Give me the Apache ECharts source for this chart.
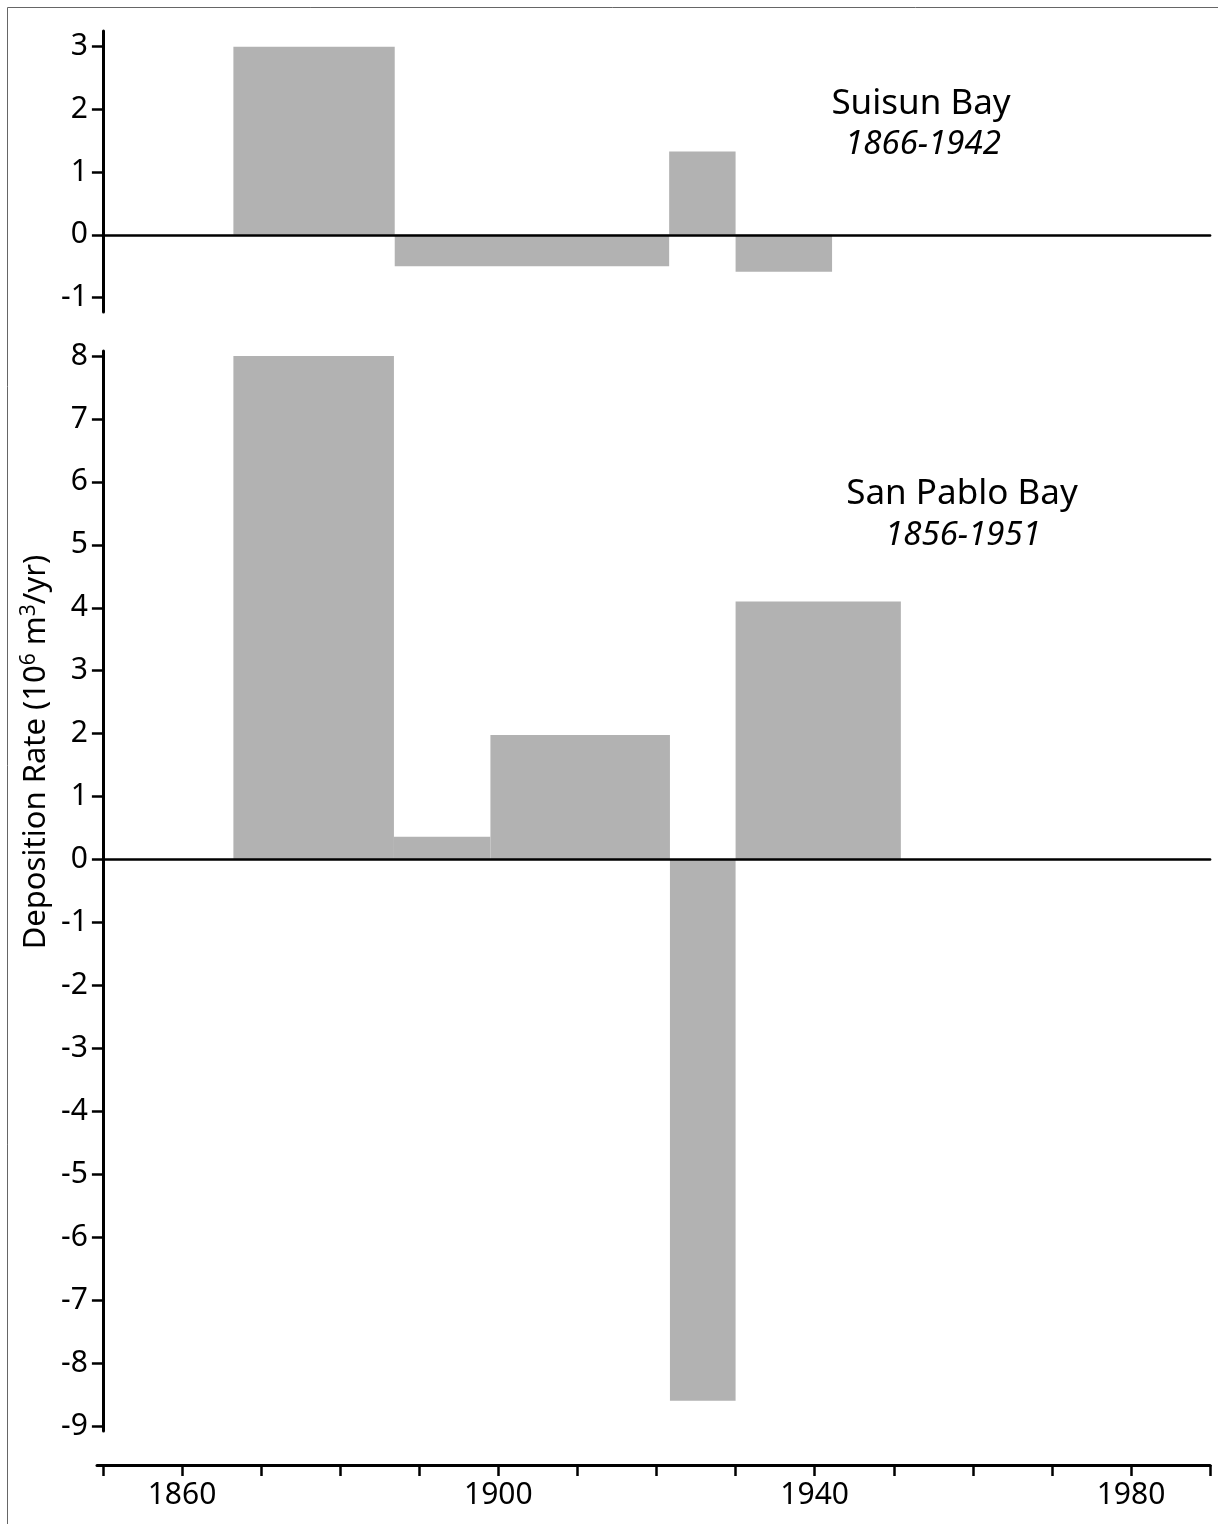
<!DOCTYPE html>
<html>
<head>
<meta charset="utf-8">
<script src="https://cdn.jsdelivr.net/npm/echarts@6/dist/echarts.min.js"></script>
<style>
  html, body { margin: 0; padding: 0; background: #fff; }
  #chart { width: 1218px; height: 1524px; }
</style>
</head>
<body>
<div id="chart"></div>
<script>
// Suisun Bay 1866-1942: periods (start year, end year) and rate
const suisunStart = [1866.5, 1886.9, 1921.6, 1930.0];
const suisunEnd   = [1886.9, 1921.6, 1930.0, 1942.2];
const suisunRate  = [3.0, -0.5, 1.33, -0.59];

// San Pablo Bay 1856-1951
const pabloStart = [1866.5, 1886.8, 1899.0, 1921.7, 1930.0];
const pabloEnd   = [1886.8, 1899.0, 1921.7, 1930.0, 1950.9];
const pabloRate  = [8.0, 0.36, 1.98, -8.6, 4.1];

// tick labels
const suisunTicks = [-1, 0, 1, 2, 3];
const pabloTicks = [-9, -8, -7, -6, -5, -4, -3, -2, -1, 0, 1, 2, 3, 4, 5, 6, 7, 8];
const yearTicks = [1850, 1860, 1870, 1880, 1890, 1900, 1910, 1920, 1930, 1940, 1950, 1960, 1970, 1980, 1990];
const yearLabels = [1860, 1900, 1940, 1980];

const FONT = 'Noto Sans';

function toRows(starts, ends, vals) {
    return starts.map((s, i) => [s, ends[i], vals[i]]);
}

// 画可变宽度的柱子
function renderBlock(params, api) {
    const p0 = api.coord([api.value(0), 0]);
    const p1 = api.coord([api.value(1), api.value(2)]);
    return {
        type: 'rect',
        shape: {
            x: p0[0],
            y: Math.min(p0[1], p1[1]),
            width: p1[0] - p0[0],
            height: Math.abs(p1[1] - p0[1])
        },
        style: { fill: '#b2b2b2' }
    };
}

function panelX(gridIndex) {
    return {
        type: 'value',
        gridIndex: gridIndex,
        min: 1850,
        max: 1990,
        z: 5,
        axisLine: { show: true, onZero: true, lineStyle: { color: '#000', width: 2.5 } },
        axisTick: { show: false },
        axisLabel: { show: false },
        splitLine: { show: false }
    };
}

function panelY(gridIndex, min, max, ticks) {
    return {
        type: 'value',
        gridIndex: gridIndex,
        min: min,
        max: max,
        axisLine: { show: true, onZero: false, lineStyle: { color: '#000', width: 3 } },
        axisTick: { show: true, length: 11, customValues: ticks, lineStyle: { color: '#000', width: 2.5 } },
        axisLabel: { customValues: ticks, margin: 15, color: '#000', fontFamily: FONT, fontSize: 30 },
        splitLine: { show: false }
    };
}

const chart = echarts.init(document.getElementById('chart'));

const option = {
    animation: false,
    backgroundColor: '#fff',
    grid: [
        { left: 102.9, right: 7.9, top: 31, height: 281 },
        { left: 102.9, right: 7.9, top: 351, height: 1080 },
        { left: 97, right: 7.9, top: 1464, height: 1 }
    ],
    xAxis: [
        panelX(0),
        panelX(1),
        {
            type: 'value',
            gridIndex: 2,
            min: 1849.25,
            max: 1990,
            axisLine: { show: true, onZero: false, lineStyle: { color: '#000', width: 3 } },
            axisTick: { show: true, length: 11, customValues: yearTicks, lineStyle: { color: '#000', width: 2.5 } },
            axisLabel: {
                customValues: yearLabels,
                margin: 15,
                color: '#000',
                fontFamily: FONT,
                fontSize: 30,
                formatter: (v) => String(v)
            },
            splitLine: { show: false }
        }
    ],
    yAxis: [
        panelY(0, -1.23, 3.25, suisunTicks),
        panelY(1, -9.08, 8.08, pabloTicks),
        { type: 'value', gridIndex: 2, show: false, min: 0, max: 1 }
    ],
    series: [
        {
            name: 'Suisun Bay',
            type: 'custom',
            xAxisIndex: 0,
            yAxisIndex: 0,
            renderItem: renderBlock,
            encode: { x: [0, 1], y: 2 },
            data: toRows(suisunStart, suisunEnd, suisunRate)
        },
        {
            name: 'San Pablo Bay',
            type: 'custom',
            xAxisIndex: 1,
            yAxisIndex: 1,
            renderItem: renderBlock,
            encode: { x: [0, 1], y: 2 },
            data: toRows(pabloStart, pabloEnd, pabloRate)
        }
    ],
    graphic: [
        {
            type: 'polyline',
            silent: true,
            shape: { points: [[7.5, 1524], [7.5, 7.5], [1218, 7.5]] },
            style: { stroke: '#666', lineWidth: 1, fill: null }
        },
        {
            type: 'text', x: 921, y: 104,
            style: { text: 'Suisun Bay', fontFamily: FONT, fontSize: 35, fill: '#000', align: 'center', verticalAlign: 'middle' }
        },
        {
            type: 'text', x: 923, y: 145,
            style: { text: '1866-1942', fontFamily: FONT, fontStyle: 'italic', fontSize: 33, fill: '#000', align: 'center', verticalAlign: 'middle' }
        },
        {
            type: 'text', x: 962, y: 494,
            style: { text: 'San Pablo Bay', fontFamily: FONT, fontSize: 35, fill: '#000', align: 'center', verticalAlign: 'middle' }
        },
        {
            type: 'text', x: 963, y: 536,
            style: { text: '1856-1951', fontFamily: FONT, fontStyle: 'italic', fontSize: 33, fill: '#000', align: 'center', verticalAlign: 'middle' }
        },
        {
            type: 'text', x: 36, y: 752, rotation: Math.PI / 2,
            style: {
                text: '{n|Deposition Rate (10}{s|6}{n| m}{s|3}{n|/yr)}',
                fontFamily: FONT,
                fill: '#000',
                align: 'center',
                verticalAlign: 'middle',
                rich: {
                    n: { fontFamily: FONT, fontSize: 31, lineHeight: 35, fill: '#000' },
                    s: { fontFamily: FONT, fontSize: 21, lineHeight: 35, fill: '#000', verticalAlign: 'top' }
                }
            }
        }
    ]
};

chart.setOption(option);
</script>
</body>
</html>
